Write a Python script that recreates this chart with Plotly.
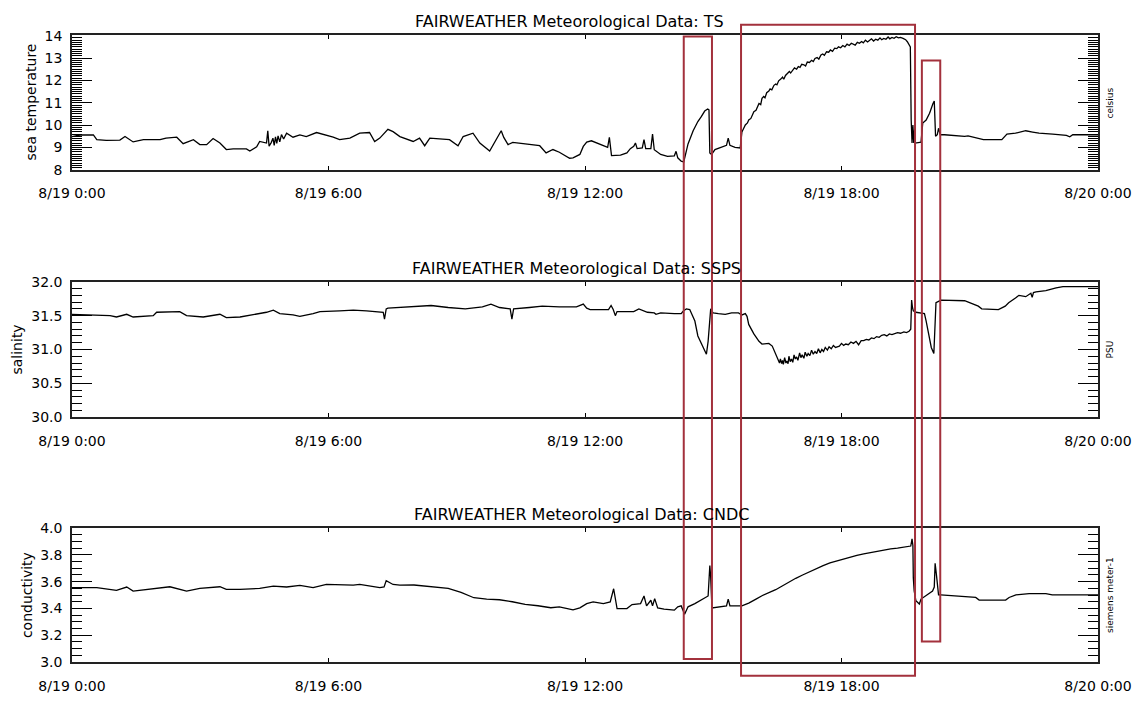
import pandas as pd
import plotly.graph_objects as go

# ---------------------------------------------------------------------------
# FAIRWEATHER underway sensor record, 19 Aug (hours since 8/19 0:00)
# ---------------------------------------------------------------------------
ts_hours = [
    0.00, 0.19, 0.50, 0.58, 0.80, 1.12, 1.24, 1.43, 1.67, 2.06,
    2.20, 2.45, 2.60, 2.84, 2.99, 3.15, 3.30, 3.46, 3.61, 3.77,
    4.08, 4.16, 4.32, 4.39, 4.55, 4.58, 4.61, 4.66, 4.70, 4.73,
    4.76, 4.79, 4.82, 4.86, 4.90, 4.95, 5.02, 5.17, 5.33, 5.48,
    5.72, 5.95, 6.11, 6.26, 6.50, 6.73, 6.96, 7.08, 7.20, 7.39,
    7.51, 7.67, 7.82, 7.98, 8.13, 8.25, 8.37, 8.60, 8.83, 9.03,
    9.15, 9.38, 9.54, 9.77, 9.89, 10.04, 10.10, 10.20, 10.31, 10.63,
    10.94, 11.09, 11.25, 11.40, 11.64, 11.72, 11.88, 11.96, 12.04, 12.15,
    12.27, 12.43, 12.53, 12.57, 12.62, 12.83, 12.98, 13.06, 13.14, 13.18,
    13.22, 13.34, 13.38, 13.42, 13.54, 13.58, 13.62, 13.77, 13.93, 14.09,
    14.13, 14.17, 14.25, 14.31, 14.34, 14.41, 14.53, 14.64, 14.72, 14.80,
    14.87, 14.90, 14.92, 14.96, 15.04, 15.20, 15.31, 15.35, 15.39, 15.51,
    15.63, 15.67, 15.72, 15.75, 15.80, 15.83, 15.88, 15.92, 15.95, 16.00,
    16.04, 16.07, 16.11, 16.14, 16.18, 16.21, 16.25, 16.30, 16.33, 16.37,
    16.42, 16.46, 16.49, 16.53, 16.58, 16.62, 16.65, 16.69, 16.74, 16.78,
    16.81, 16.86, 16.90, 16.95, 16.99, 17.03, 17.07, 17.12, 17.16, 17.20,
    17.25, 17.30, 17.34, 17.38, 17.43, 17.47, 17.52, 17.56, 17.60, 17.65,
    17.70, 17.74, 17.79, 17.84, 17.89, 17.93, 17.98, 18.03, 18.08, 18.13,
    18.18, 18.23, 18.27, 18.32, 18.37, 18.42, 18.47, 18.51, 18.56, 18.61,
    18.66, 18.70, 18.75, 18.80, 18.85, 18.90, 18.94, 18.99, 19.04, 19.09,
    19.13, 19.18, 19.23, 19.28, 19.33, 19.38, 19.44, 19.50, 19.54, 19.58,
    19.61, 19.63, 19.65, 19.67, 19.69, 19.71, 19.73, 19.86, 19.90, 19.98,
    20.06, 20.14, 20.17, 20.20, 20.24, 20.27, 20.31, 20.41, 20.57, 20.88,
    20.96, 21.20, 21.32, 21.75, 21.87, 22.07, 22.31, 22.47, 22.62, 22.94,
    23.26, 23.34, 23.41, 23.77, 24.00,
]
ts_values = [
    9.49, 9.56, 9.56, 9.35, 9.32, 9.33, 9.49, 9.25, 9.35, 9.35,
    9.42, 9.46, 9.17, 9.35, 9.13, 9.13, 9.40, 9.20, 8.91, 8.94,
    8.94, 8.84, 9.03, 9.27, 9.20, 9.75, 9.06, 9.22, 9.42, 9.10,
    9.48, 9.18, 9.52, 9.25, 9.58, 9.38, 9.64, 9.46, 9.56, 9.49,
    9.67, 9.56, 9.46, 9.35, 9.42, 9.64, 9.67, 9.27, 9.42, 9.81,
    9.71, 9.49, 9.38, 9.27, 9.42, 9.08, 9.42, 9.38, 9.35, 9.08,
    9.49, 9.64, 9.20, 8.84, 9.27, 9.75, 9.45, 9.13, 9.23, 9.17,
    9.08, 8.76, 8.91, 8.79, 8.52, 8.54, 8.69, 9.05, 9.24, 9.30,
    9.20, 9.10, 9.01, 9.45, 8.64, 8.66, 8.76, 8.95, 9.05, 9.20,
    8.95, 8.98, 9.35, 8.95, 8.95, 9.60, 8.90, 8.69, 8.60, 8.63,
    8.83, 8.54, 8.39, 8.36, 8.61, 9.16, 9.75, 10.16, 10.38, 10.63,
    10.72, 10.68, 8.76, 8.69, 8.91, 9.01, 9.10, 9.42, 9.10, 9.01,
    8.98, 9.69, 9.95, 10.01, 10.10, 10.23, 10.30, 10.50, 10.60, 10.66,
    10.85, 10.97, 10.92, 11.20, 11.28, 11.22, 11.45, 11.52, 11.62, 11.58,
    11.78, 11.84, 11.80, 11.98, 12.06, 12.15, 12.05, 12.22, 12.32, 12.40,
    12.33, 12.48, 12.56, 12.50, 12.62, 12.58, 12.72, 12.70, 12.64, 12.82,
    12.80, 12.90, 12.84, 12.98, 13.02, 12.95, 13.14, 13.18, 13.12, 13.28,
    13.26, 13.36, 13.30, 13.44, 13.42, 13.50, 13.46, 13.56, 13.50, 13.62,
    13.56, 13.66, 13.62, 13.58, 13.70, 13.66, 13.74, 13.68, 13.80, 13.72,
    13.80, 13.86, 13.76, 13.84, 13.80, 13.90, 13.82, 13.88, 13.84, 13.94,
    13.86, 13.92, 13.88, 13.95, 13.90, 13.92, 13.88, 13.82, 13.73, 13.62,
    13.50, 10.23, 9.20, 10.01, 9.20, 9.80, 9.20, 9.24, 10.09, 10.23,
    10.53, 10.97, 11.08, 9.50, 9.57, 9.86, 9.57, 9.57, 9.54, 9.50,
    9.52, 9.42, 9.35, 9.35, 9.60, 9.64, 9.75, 9.69, 9.64, 9.60,
    9.54, 9.48, 9.57, 9.57, 9.57,
]

ssps_hours = [
    0.00, 0.50, 0.89, 1.04, 1.28, 1.43, 1.90, 1.98, 2.52, 2.68,
    3.07, 3.46, 3.61, 3.93, 4.24, 4.55, 4.71, 4.86, 5.17, 5.33,
    5.64, 5.80, 6.26, 6.58, 6.89, 7.20, 7.28, 7.31, 7.35, 7.39,
    7.67, 8.00, 8.40, 8.80, 9.20, 9.60, 9.80, 10.00, 10.25, 10.29,
    10.33, 10.70, 11.00, 11.40, 11.80, 11.96, 12.04, 12.12, 12.55, 12.61,
    12.66, 12.71, 12.75, 13.14, 13.26, 13.46, 13.62, 13.66, 13.77, 14.09,
    14.25, 14.29, 14.37, 14.45, 14.57, 14.64, 14.72, 14.80, 14.84, 14.88,
    14.92, 14.94, 14.96, 15.00, 15.12, 15.28, 15.43, 15.59, 15.67, 15.75,
    15.79, 15.83, 15.95, 16.07, 16.14, 16.30, 16.38, 16.46, 16.52, 16.55,
    16.57, 16.60, 16.62, 16.64, 16.67, 16.70, 16.72, 16.75, 16.77, 16.80,
    16.83, 16.86, 16.89, 16.92, 16.95, 16.98, 17.02, 17.05, 17.08, 17.12,
    17.15, 17.19, 17.22, 17.26, 17.30, 17.34, 17.38, 17.42, 17.46, 17.50,
    17.54, 17.58, 17.62, 17.67, 17.71, 17.76, 17.81, 17.86, 17.90, 17.95,
    18.00, 18.05, 18.10, 18.16, 18.22, 18.28, 18.34, 18.40, 18.46, 18.52,
    18.58, 18.64, 18.70, 18.76, 18.82, 18.88, 18.94, 19.00, 19.06, 19.12,
    19.18, 19.25, 19.31, 19.38, 19.46, 19.52, 19.58, 19.62, 19.64, 19.66,
    19.68, 19.74, 19.86, 19.94, 19.98, 20.06, 20.10, 20.16, 20.19, 20.21,
    20.27, 20.33, 20.88, 21.20, 21.28, 21.67, 21.83, 21.91, 22.07, 22.15,
    22.31, 22.43, 22.46, 22.49, 22.55, 22.78, 23.02, 23.18, 23.73, 24.00,
]
ssps_values = [
    31.52, 31.51, 31.50, 31.48, 31.52, 31.48, 31.50, 31.55, 31.56, 31.50,
    31.48, 31.52, 31.47, 31.48, 31.51, 31.55, 31.58, 31.53, 31.51, 31.49,
    31.53, 31.56, 31.57, 31.58, 31.57, 31.56, 31.55, 31.45, 31.60, 31.61,
    31.62, 31.63, 31.65, 31.62, 31.60, 31.63, 31.67, 31.62, 31.60, 31.45,
    31.60, 31.62, 31.64, 31.63, 31.63, 31.67, 31.61, 31.59, 31.59, 31.65,
    31.59, 31.50, 31.56, 31.56, 31.60, 31.55, 31.54, 31.52, 31.54, 31.53,
    31.53, 31.56, 31.60, 31.59, 31.42, 31.20, 31.10, 31.00, 30.93, 31.12,
    31.52, 31.60, 31.57, 31.54, 31.53, 31.52, 31.54, 31.54, 31.51, 31.53,
    31.49, 31.37, 31.23, 31.12, 31.08, 31.09, 31.05, 30.93, 30.86, 30.80,
    30.86, 30.79, 30.84, 30.78, 30.88, 30.80, 30.83, 30.79, 30.90, 30.82,
    30.86, 30.81, 30.92, 30.86, 30.89, 30.84, 30.95, 30.88, 30.92, 30.87,
    30.96, 30.90, 30.94, 30.91, 30.99, 30.93, 30.97, 30.94, 31.01, 30.95,
    31.00, 30.97, 31.03, 30.99, 31.04, 31.01, 31.06, 31.03, 31.04, 31.05,
    31.09, 31.06, 31.08, 31.07, 31.11, 31.09, 31.12, 31.07, 31.13, 31.13,
    31.15, 31.14, 31.17, 31.16, 31.19, 31.18, 31.21, 31.22, 31.20, 31.23,
    31.22, 31.24, 31.25, 31.24, 31.26, 31.25, 31.27, 31.30, 31.73, 31.62,
    31.57, 31.55, 31.54, 31.53, 31.42, 31.17, 31.03, 30.94, 31.37, 31.69,
    31.71, 31.73, 31.72, 31.64, 31.60, 31.59, 31.64, 31.69, 31.76, 31.80,
    31.78, 31.83, 31.77, 31.84, 31.85, 31.87, 31.91, 31.93, 31.93, 31.93,
]

cndc_hours = [
    0.00, 0.58, 1.04, 1.28, 1.43, 1.75, 2.29, 2.68, 2.99, 3.46,
    3.61, 3.93, 4.39, 4.71, 5.02, 5.33, 5.64, 5.95, 6.26, 6.58,
    6.73, 7.20, 7.30, 7.35, 7.51, 7.67, 8.00, 8.40, 8.80, 9.10,
    9.40, 9.70, 10.00, 10.30, 10.60, 10.90, 11.20, 11.40, 11.72, 11.88,
    12.04, 12.19, 12.43, 12.59, 12.67, 12.75, 12.98, 13.10, 13.30, 13.38,
    13.44, 13.54, 13.58, 13.63, 13.70, 13.85, 14.09, 14.17, 14.25, 14.33,
    14.41, 14.57, 14.72, 14.88, 14.92, 14.94, 14.97, 15.12, 15.31, 15.35,
    15.39, 15.67, 15.83, 16.00, 16.14, 16.46, 16.62, 16.78, 16.93, 17.09,
    17.25, 17.41, 17.57, 17.73, 17.88, 18.04, 18.20, 18.36, 18.52, 18.67,
    18.83, 18.99, 19.15, 19.31, 19.46, 19.62, 19.65, 19.67, 19.68, 19.70,
    19.74, 19.82, 19.86, 19.97, 20.13, 20.17, 20.19, 20.22, 20.24, 20.27,
    20.32, 20.60, 21.14, 21.22, 21.84, 21.92, 22.08, 22.39, 22.78, 22.93,
    23.56, 23.87, 24.00,
]
cndc_values = [
    3.555, 3.555, 3.535, 3.560, 3.530, 3.543, 3.562, 3.530, 3.550, 3.562,
    3.543, 3.543, 3.550, 3.567, 3.560, 3.572, 3.555, 3.579, 3.574, 3.574,
    3.579, 3.555, 3.560, 3.608, 3.579, 3.574, 3.575, 3.565, 3.550, 3.520,
    3.480, 3.470, 3.465, 3.450, 3.430, 3.420, 3.405, 3.412, 3.390, 3.404,
    3.436, 3.449, 3.436, 3.449, 3.547, 3.399, 3.399, 3.429, 3.436, 3.493,
    3.419, 3.461, 3.419, 3.473, 3.404, 3.395, 3.387, 3.412, 3.419, 3.357,
    3.412, 3.436, 3.461, 3.493, 3.720, 3.634, 3.404, 3.412, 3.419, 3.469,
    3.419, 3.419, 3.440, 3.470, 3.495, 3.540, 3.570, 3.600, 3.625, 3.650,
    3.675, 3.700, 3.720, 3.740, 3.755, 3.770, 3.785, 3.797, 3.808, 3.818,
    3.828, 3.838, 3.845, 3.850, 3.856, 3.866, 3.920, 3.870, 3.628, 3.530,
    3.458, 3.433, 3.470, 3.494, 3.530, 3.560, 3.737, 3.652, 3.560, 3.501,
    3.501, 3.494, 3.482, 3.462, 3.462, 3.482, 3.501, 3.511, 3.511, 3.501,
    3.501, 3.506, 3.501,
]

panel_titles = [
    "FAIRWEATHER Meteorological Data: TS",
    "FAIRWEATHER Meteorological Data: SSPS",
    "FAIRWEATHER Meteorological Data: CNDC",
]
y_titles = ["sea temperature", "salinity", "conductivity"]
unit_labels = ["celsius", "PSU", "siemens meter-1"]

x_tick_hours = [0, 6, 12, 18, 24]
x_tick_text = ["8/19 0:00", "8/19 6:00", "8/19 12:00", "8/19 18:00", "8/20 0:00"]

# highlighted intervals (start hour, end hour)
highlight_start = [14.31, 15.65, 19.88]
highlight_end = [14.97, 19.72, 20.31]

# ---------------------------------------------------------------------------
DAY0 = pd.Timestamp("2009-08-19 00:00")


def to_time(hours):
    return DAY0 + pd.to_timedelta(pd.Series(hours, dtype=float), unit="h")


W, H = 1144, 706
ML, MR, MT, MB = 72, 45, 34.5, 30
PW = W - ML - MR
PH = H - MT - MB


def py(ypix):
    return (H - MB - ypix) / PH


def px(xpix):
    return (xpix - ML) / PW


FONT = "DejaVu Sans"
INK = "black"
BOX_RED = "#a3313c"

panels = [
    dict(hours=ts_hours, vals=ts_values, top=34.5, bottom=172.5,
         yrange=[8.0, 14.03], dtick=1, minor=0.1, fmt="d"),
    dict(hours=ssps_hours, vals=ssps_values, top=287, bottom=425.5,
         yrange=[30.0, 32.0], dtick=0.5, minor=0.1, fmt=".1f"),
    dict(hours=cndc_hours, vals=cndc_values, top=539, bottom=676,
         yrange=[3.0, 4.0], dtick=0.2, minor=0.05, fmt=".1f"),
]

fig = go.Figure()
x_range = [DAY0, DAY0 + pd.Timedelta(hours=24)]
tick_times = list(to_time(x_tick_hours))

title_x = [570, 577, 582]
ytitle_x = [31, 17, 27]

for i, p in enumerate(panels):
    n = "" if i == 0 else str(i + 1)
    assert len(p["hours"]) == len(p["vals"])
    fig.add_trace(go.Scatter(
        x=to_time(p["hours"]), y=p["vals"], mode="lines",
        line=dict(color=INK, width=1.3), xaxis="x" + n, yaxis="y" + n,
        showlegend=False, hoverinfo="skip",
    ))
    dom = [py(p["bottom"]), py(p["top"])]
    fig.update_layout(**{
        "xaxis" + n: dict(
            domain=[0, 1], anchor="y" + n, type="date", range=x_range,
            tickmode="array", tickvals=tick_times, ticktext=x_tick_text,
            ticks="inside", ticklen=4, tickwidth=1, tickcolor=INK,
            showline=True, linecolor="#222", linewidth=1.5, mirror="ticks",
            showgrid=False, zeroline=False, ticklabelstandoff=10,
            tickfont=dict(family=FONT, size=14, color=INK),
        ),
        "yaxis" + n: dict(
            domain=dom, anchor="x" + n, range=p["yrange"],
            tickmode="linear", tick0=p["yrange"][0], dtick=p["dtick"],
            tickformat=p["fmt"], ticks="inside", ticklen=20, tickwidth=1,
            tickcolor=INK, showline=True, linecolor="#222", linewidth=1.5,
            mirror="ticks", showgrid=False, zeroline=False,
            ticklabelstandoff=5,
            tickfont=dict(family=FONT, size=14, color=INK),
            minor=dict(dtick=p["minor"], tick0=p["yrange"][0],
                       ticks="inside", ticklen=10, tickwidth=1,
                       tickcolor=INK, showgrid=False),
        ),
    })
    fig.add_annotation(
        text=panel_titles[i], xref="paper", yref="paper",
        x=px(title_x[i]), y=py(p["top"] - 14), xanchor="center",
        yanchor="middle", showarrow=False,
        font=dict(family=FONT, size=16, color=INK),
    )
    fig.add_annotation(
        text=y_titles[i], xref="paper", yref="paper",
        x=px(ytitle_x[i]), y=py((p["top"] + p["bottom"]) / 2),
        xanchor="center", yanchor="middle", textangle=-90, showarrow=False,
        font=dict(family=FONT, size=14, color=INK),
    )
    fig.add_annotation(
        text=unit_labels[i], xref="paper", yref="paper",
        x=px(1111), y=py((p["top"] + p["bottom"]) / 2),
        xanchor="center", yanchor="middle", textangle=-90, showarrow=False,
        font=dict(family=FONT, size=9, color=INK),
    )

# highlight boxes spanning the stacked panels
box_tops = [36, 24, 60.7]
box_bottoms = [673, 690, 655]
for s, e, t, b in zip(highlight_start, highlight_end, box_tops, box_bottoms):
    fig.add_shape(
        type="rect", xref="x", yref="paper",
        x0=DAY0 + pd.Timedelta(hours=s), x1=DAY0 + pd.Timedelta(hours=e),
        y0=py(b), y1=py(t), line=dict(color=BOX_RED, width=2),
        fillcolor="rgba(0,0,0,0)", layer="above",
    )

fig.update_layout(
    width=W, height=H, margin=dict(l=ML, r=MR, t=MT, b=MB, pad=0),
    paper_bgcolor="white", plot_bgcolor="white",
    font=dict(family=FONT, color=INK),
)

fig.write_html("out.html")
